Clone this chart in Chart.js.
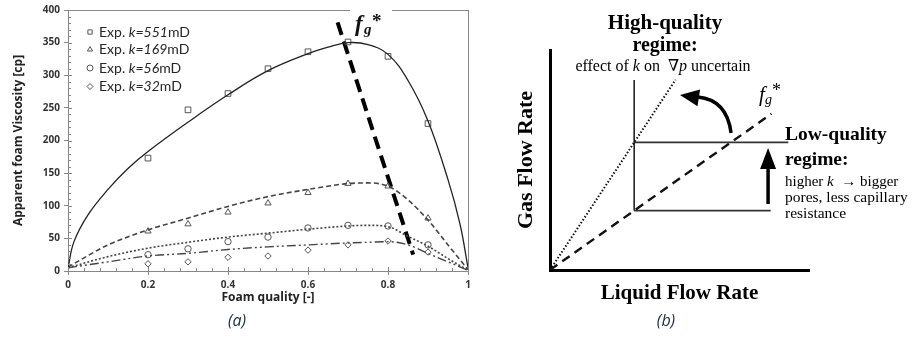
<!DOCTYPE html>
<html lang="en">
<head>
<meta charset="UTF-8">
<title>Foam viscosity vs foam quality</title>
<script src="https://cdn.jsdelivr.net/npm/chart.js"></script>
<style>
    body { margin: 0; background: #fff; width: 914px; height: 337px; overflow: hidden; position: relative; }
    .panel { position: absolute; top: 0; }
    #boxA { left: 0; width: 480px; height: 337px; }
    #boxB { left: 480px; width: 434px; height: 337px; }
</style>
</head>
<body>
<div class="panel" id="boxA"><canvas id="chartA" width="480" height="337"></canvas></div>
<div class="panel" id="boxB"><canvas id="chartB" width="434" height="337"></canvas></div>
<script>
// ** Panel (a): apparent foam viscosity [cp] vs foam quality [-] **
let quality = [0.2, 0.3, 0.4, 0.5, 0.6, 0.7, 0.8, 0.9];
let exp551 = [173, 247, 272, 310, 336, 351, 329, 226];
let exp169 = [61, 72, 90, 104, 120, 134, 130, 81];
let exp56 = [25, 34, 45, 52, 66, 70, 69, 40];
let exp32 = [11, 14, 21, 23, 32, 40, 46, 29];
let seriesNames = ["551", "169", "56", "32"];

// model curves
let fitQ551 = [0, 0.015, 0.05, 0.1, 0.15, 0.2, 0.3, 0.4, 0.5, 0.6, 0.65, 0.7, 0.75, 0.8, 0.85, 0.9, 0.95, 0.98, 1];
let fit551 = [5, 45, 86, 125, 157, 183, 228, 270, 307, 333, 343, 350, 347, 332, 292, 230, 140, 72, 5];
let fitQ = [0, 0.1, 0.2, 0.3, 0.4, 0.5, 0.6, 0.7, 0.75, 0.8, 0.85, 0.9, 0.95, 1];
let fit169 = [6, 40, 63, 81, 99, 114, 125, 134, 135, 130, 109, 78, 40, 2];
let fit56 = [5, 22, 35, 44, 52, 58, 64, 69, 70, 68, 53, 38, 19, 1];
let fit32 = [5, 14, 23, 27, 33, 37, 40, 43, 44, 45, 40, 27, 14, 1];

// fg* transition line
let fgLineQ = [0.674, 0.863];
let fgLineV = [381, 25];

// ** Panel (b): schematic, arbitrary units 0-100 on both axes **
let dottedX = [0, 48.5], dottedY = [0, 86.5];
let fgStarX = [0, 85.5], fgStarY = [0, 71];
let boundaryX = [32.5, 32.5], boundaryY = [27, 86.4];
let upperX = [32.5, 92], upperY = [58, 58];
let lowerX = [32.5, 85.2], lowerY = [27, 27];

const pts = (xs, ys) => xs.map((x, i) => ({ x: x, y: ys[i] }));

Chart.defaults.animation = false;
Chart.defaults.devicePixelRatio = 1;

const SANS = "'Open Sans', sans-serif";
const SERIF = "'Liberation Serif', 'DejaVu Serif', serif";

function drawRuns(ctx, runs, x, y) {
    runs.forEach(r => {
        ctx.font = r.font;
        ctx.fillText(r.text, x, y);
        x += ctx.measureText(r.text).width;
    });
    return x;
}
function runsWidth(ctx, runs) {
    let w = 0;
    runs.forEach(r => { ctx.font = r.font; w += ctx.measureText(r.text).width; });
    return w;
}

const markerStyle = ["rect", "triangle", "circle", "rectRot"];

// minor ticks, box, legend and labels for panel (a)
const panelAExtras = {
    id: "panelAExtras",
    afterDraw(chart) {
        const ctx = chart.ctx;
        const xs = chart.scales.x, ys = chart.scales.y;
        const a = chart.chartArea;
        ctx.save();
        ctx.strokeStyle = "#888";
        ctx.lineWidth = 1;
        ctx.beginPath();
        for (let v = 0; v <= 400; v += 10) {
            const y = Math.round(ys.getPixelForValue(v)) + 0.5;
            ctx.moveTo(a.left, y);
            ctx.lineTo(a.left + (v % 50 === 0 ? 4 : 3), y);
        }
        for (let i = 0; i <= 25; i++) {
            const x = Math.round(xs.getPixelForValue(i * 0.04)) + 0.5;
            ctx.moveTo(x, a.bottom);
            ctx.lineTo(x, a.bottom - (i % 5 === 0 ? 4 : 3));
        }
        // box: top edge has a gap for the fg* label
        const top = Math.round(a.top) + 0.5;
        ctx.moveTo(a.left, top); ctx.lineTo(350, top);
        ctx.moveTo(392, top); ctx.lineTo(a.right, top);
        ctx.moveTo(Math.round(a.right) + 0.5, a.top); ctx.lineTo(Math.round(a.right) + 0.5, a.bottom);
        ctx.stroke();

        // legend
        ctx.textBaseline = "middle";
        const rows = [32, 49.5, 68, 86.5];
        seriesNames.forEach((k, i) => {
            ctx.strokeStyle = "#555";
            ctx.fillStyle = "rgba(0,0,0,0)";
            ctx.lineWidth = 1;
            Chart.helpers.drawPoint(ctx, { pointStyle: markerStyle[i], radius: 3, borderWidth: 1, rotation: 0 }, 90, rows[i]);
            ctx.fillStyle = "#262626";
            drawRuns(ctx, [
                { text: "Exp. ", font: "14px Lato" },
                { text: "k=" + k, font: "italic 14px Lato" },
                { text: "mD", font: "14px Lato" }
            ], 99, rows[i]);
        });

        // fg* label
        ctx.fillStyle = "#111";
        ctx.textBaseline = "alphabetic";
        ctx.font = "bold italic 23px " + SERIF;
        ctx.fillText("f", 355, 31);
        ctx.font = "bold italic 15px " + SERIF;
        ctx.fillText("g", 364, 34);
        ctx.font = "bold 19px " + SERIF;
        ctx.fillText("*", 372, 27);

        // panel caption
        ctx.fillStyle = "#1c2a48";
        ctx.textAlign = "center";
        ctx.textBaseline = "middle";
        ctx.font = "italic 16px " + SANS;
        ctx.fillText("(a)", 237, 321);
        ctx.restore();
    }
};

const tickFont = { family: SANS, weight: "bold", size: 10 };
const titleFont = { family: SANS, weight: "bold", size: 12 };

new Chart(document.getElementById("chartA"), {
    type: "scatter",
    data: {
        datasets: [
            { data: pts(fitQ551, fit551), showLine: true, pointRadius: 0, borderColor: "#222", borderWidth: 1.3, tension: 0.4 },
            { data: pts(fitQ, fit169), showLine: true, pointRadius: 0, borderColor: "#444", borderWidth: 1.6, borderDash: [5, 3], cubicInterpolationMode: "monotone" },
            { data: pts(fitQ, fit56), showLine: true, pointRadius: 0, borderColor: "#444", borderWidth: 1.6, borderDash: [2, 2], cubicInterpolationMode: "monotone" },
            { data: pts(fitQ, fit32), showLine: true, pointRadius: 0, borderColor: "#444", borderWidth: 1.4, borderDash: [9, 3, 2, 3, 2, 3], cubicInterpolationMode: "monotone" },
            { data: pts(quality, exp551), pointStyle: "rect", pointRadius: 4, borderColor: "#555", borderWidth: 1, backgroundColor: "rgba(0,0,0,0)" },
            { data: pts(quality, exp169), pointStyle: "triangle", pointRadius: 3.6, borderColor: "#555", borderWidth: 1, backgroundColor: "rgba(0,0,0,0)" },
            { data: pts(quality, exp56), pointStyle: "circle", pointRadius: 3.2, borderColor: "#555", borderWidth: 1, backgroundColor: "rgba(0,0,0,0)" },
            { data: pts(quality, exp32), pointStyle: "rectRot", pointRadius: 3.2, borderColor: "#555", borderWidth: 1, backgroundColor: "rgba(0,0,0,0)" },
            { data: pts(fgLineQ, fgLineV), showLine: true, pointRadius: 0, borderColor: "#000", borderWidth: 4, borderDash: [13, 7] }
        ]
    },
    options: {
        responsive: false,
        layout: { padding: { top: 10, right: 12, left: 0, bottom: 0 } },
        plugins: { legend: { display: false }, tooltip: { enabled: false } },
        scales: {
            x: {
                type: "linear", min: 0, max: 1,
                afterFit: s => { s.height = 66; },
                ticks: { stepSize: 0.2, padding: 4, color: "#333", font: tickFont, maxRotation: 0, callback: v => +v.toFixed(1) },
                grid: { drawOnChartArea: false, tickLength: 4, color: "#888" },
                border: { color: "#888" },
                title: { display: true, text: "Foam quality [-]", color: "#222", font: titleFont, padding: { top: 0, bottom: 32 } }
            },
            y: {
                min: 0, max: 400,
                afterFit: s => { s.width = 68; },
                ticks: { stepSize: 50, padding: 4, color: "#333", font: tickFont },
                grid: { drawOnChartArea: false, tickLength: 4, color: "#888" },
                border: { color: "#888" },
                title: { display: true, text: "Apparent foam Viscosity [cp]", color: "#222", font: titleFont, padding: { top: 11, bottom: 0 } }
            }
        }
    },
    plugins: [panelAExtras]
});

// arrows and annotations for panel (b)
function arrowHead(ctx, tipX, tipY, fromX, fromY, len, half) {
    const ang = Math.atan2(tipY - fromY, tipX - fromX);
    const bx = tipX - Math.cos(ang) * len, by = tipY - Math.sin(ang) * len;
    ctx.beginPath();
    ctx.moveTo(tipX, tipY);
    ctx.lineTo(bx + Math.sin(ang) * half, by - Math.cos(ang) * half);
    ctx.lineTo(bx - Math.sin(ang) * half, by + Math.cos(ang) * half);
    ctx.closePath();
    ctx.fill();
}

const panelBExtras = {
    id: "panelBExtras",
    afterDraw(chart) {
        const ctx = chart.ctx;
        const px = v => chart.scales.x.getPixelForValue(v);
        const py = v => chart.scales.y.getPixelForValue(v);
        ctx.save();
        ctx.fillStyle = "#000";
        ctx.strokeStyle = "#000";

        // vertical arrow (low-quality regime shifts up)
        ctx.lineWidth = 3.5;
        ctx.beginPath();
        ctx.moveTo(px(84.2), py(30));
        ctx.lineTo(px(84.2), py(55.5) + 18);
        ctx.stroke();
        arrowHead(ctx, px(84.2), py(55.5), px(84.2), py(30), 21, 8);

        // curved arrow towards the high-quality regime
        ctx.beginPath();
        ctx.moveTo(px(69.9), py(62.3));
        ctx.quadraticCurveTo(px(68.3), py(77.3), px(57.1), py(78.6));
        ctx.stroke();
        arrowHead(ctx, px(50.2), py(79.5), px(57.5), py(78.2), 19, 8.5);

        ctx.textBaseline = "middle";
        ctx.textAlign = "center";
        ctx.font = "bold 21px " + SERIF;
        ctx.fillText("High-quality", 185, 24);
        ctx.font = "bold 20px " + SERIF;
        ctx.fillText("regime:", 185, 46);

        ctx.textAlign = "left";
        const effect = [
            { text: "effect of ", font: "16px " + SERIF },
            { text: "k", font: "italic 16px " + SERIF },
            { text: " on  \u2207", font: "16px " + SERIF },
            { text: "p", font: "italic 16px " + SERIF },
            { text: " uncertain", font: "16px " + SERIF }
        ];
        drawRuns(ctx, effect, 183 - runsWidth(ctx, effect) / 2, 67);

        // fg* label
        ctx.textBaseline = "alphabetic";
        ctx.font = "italic 21px " + SERIF;
        ctx.fillText("f", 279, 101);
        ctx.font = "italic 14px " + SERIF;
        ctx.fillText("g", 285, 104);
        ctx.font = "18px " + SERIF;
        ctx.fillText("*", 292, 96);

        ctx.textBaseline = "middle";
        ctx.font = "bold 19.5px " + SERIF;
        ctx.fillText("Low-quality", 305, 135);
        ctx.fillText("regime:", 305, 160);
        drawRuns(ctx, [
            { text: "higher ", font: "15px " + SERIF },
            { text: "k", font: "italic 15px " + SERIF },
            { text: "  \u2192 bigger", font: "15px " + SERIF }
        ], 305, 182);
        ctx.font = "15.5px " + SERIF;
        ctx.fillText("pores, less capillary", 305, 198);
        ctx.fillText("resistance", 305, 214);

        // panel caption
        ctx.fillStyle = "#1c2a48";
        ctx.textAlign = "center";
        ctx.font = "italic 16px " + SANS;
        ctx.fillText("(b)", 186, 321);
        ctx.restore();
    }
};

new Chart(document.getElementById("chartB"), {
    type: "scatter",
    data: {
        datasets: [
            { data: pts(dottedX, dottedY), showLine: true, pointRadius: 0, borderColor: "#111", borderWidth: 2, borderDash: [1.5, 2] },
            { data: pts(fgStarX, fgStarY), showLine: true, pointRadius: 0, borderColor: "#111", borderWidth: 2.4, borderDash: [9, 6] },
            { data: pts(boundaryX, boundaryY), showLine: true, pointRadius: 0, borderColor: "#222", borderWidth: 1.6 },
            { data: pts(upperX, upperY), showLine: true, pointRadius: 0, borderColor: "#333", borderWidth: 1.6 },
            { data: pts(lowerX, lowerY), showLine: true, pointRadius: 0, borderColor: "#333", borderWidth: 1.6 }
        ]
    },
    options: {
        responsive: false,
        layout: { padding: { top: 50, right: 105, left: 0, bottom: 0 } },
        plugins: { legend: { display: false }, tooltip: { enabled: false } },
        scales: {
            x: {
                type: "linear", min: 0, max: 100,
                afterFit: s => { s.height = 67; },
                ticks: { display: false },
                grid: { display: false },
                border: { color: "#000", width: 3 },
                title: { display: true, text: "Liquid Flow Rate", color: "#000", font: { family: "Liberation Serif", weight: "bold", size: 21 }, padding: { top: 0, bottom: 31 } }
            },
            y: {
                min: 0, max: 100,
                afterFit: s => { s.width = 70; },
                ticks: { display: false },
                grid: { display: false },
                border: { color: "#000", width: 3 },
                title: { display: true, text: "Gas Flow Rate", color: "#000", font: { family: "Liberation Serif", weight: "bold", size: 22 }, padding: { top: 33, bottom: 0 } }
            }
        }
    },
    plugins: [panelBExtras]
});
</script>
</body>
</html>
